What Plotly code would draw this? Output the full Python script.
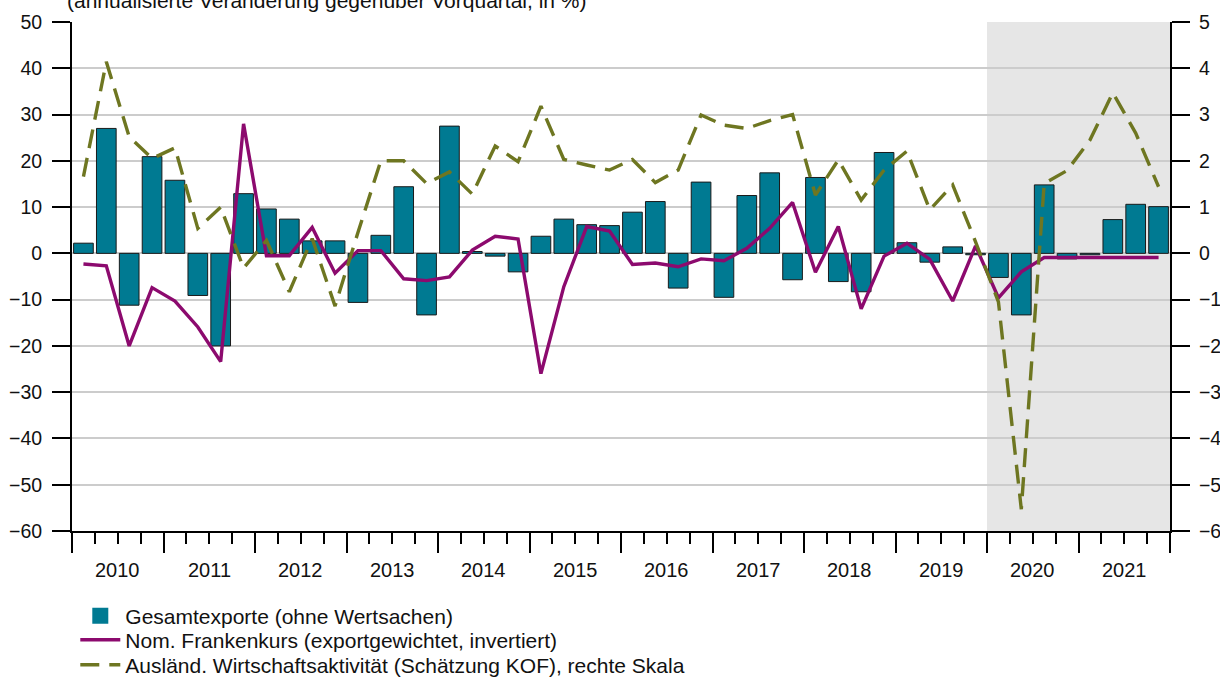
import plotly.graph_objects as go

years = list(range(2010, 2022))
quarters = [f"{y}Q{q}" for y in years for q in range(1, 5)]

exports = [2.2, 27.0, -11.2, 20.9,
           15.8, -9.1, -20.0, 12.9,
           9.6, 7.4, 2.7, 2.7,
           -10.6, 3.9, 14.4, -13.3,
           27.5, 0.4, -0.6, -4.0,
           3.7, 7.4, 6.2, 6.0,
           8.9, 11.2, -7.5, 15.4,
           -9.5, 12.5, 17.4, -5.7,
           16.4, -6.1, -8.3, 21.8,
           2.3, -1.9, 1.4, -0.3,
           -5.2, -13.3, 14.8, -1.2,
           -0.3, 7.3, 10.6, 10.1]

chf = [-2.3, -2.7, -20.0, -7.4,
       -10.3, -15.9, -23.4, 28.0,
       -0.5, -0.5, 5.6, -4.3,
       0.6, 0.6, -5.5, -5.9,
       -5.1, 0.7, 3.7, 3.1,
       -26.0, -7.2, 5.8, 4.8,
       -2.4, -2.1, -2.9, -1.2,
       -1.6, 1.1, 5.4, 11.0,
       -4.1, 5.8, -12.0, -0.6,
       2.2, -1.3, -10.3, 1.6,
       -9.6, -4.0, -0.9, -0.9,
       -0.9, -0.9, -0.9, -0.9]

kof = [1.66, 4.14, 2.52, 2.05,
       2.28, 0.54, 1.0, -0.32,
       0.28, -0.83, 0.32, -1.14,
       0.45, 2.0, 2.0, 1.51,
       1.76, 1.28, 2.32, 1.98,
       3.18, 2.03, 1.91, 1.8,
       2.03, 1.53, 1.8, 2.99,
       2.77, 2.7, 2.87, 3.0,
       1.26, 2.02, 1.15, 1.8,
       2.21, 0.94, 1.48, 0.25,
       -1.05, -5.53, 1.51, 1.79,
       2.45, 3.47, 2.6, 1.44]

shade_start = "2020Q1"

names = ["Gesamtexporte (ohne Wertsachen)",
         "Nom. Frankenkurs (exportgewichtet, invertiert)",
         "Ausländ. Wirtschaftsaktivität (Schätzung KOF), rechte Skala"]

TEAL = "#007a92"
PURPLE = "#8c0a6e"
OLIVE = "#6e7621"
FONT = "Liberation Sans, Arial, sans-serif"
TXT = "#111111"

idx = list(range(len(quarters)))
n = len(quarters)

fig = go.Figure()
fig.add_trace(go.Bar(
    x=idx, y=exports, name=names[0], showlegend=False,
    marker=dict(color=TEAL, line=dict(color="#1a1a1a", width=1)),
    width=0.86,
))
# legend proxy for the bars (larger square symbol)
fig.add_trace(go.Scatter(
    x=[None], y=[None], name=names[0], mode="markers",
    marker=dict(symbol="square", size=18, color=TEAL), legend="legend",
))
fig.add_trace(go.Scatter(
    x=idx, y=chf, name=names[1], legend="legend2",
    mode="lines", line=dict(color=PURPLE, width=3.4),
))
fig.add_trace(go.Scatter(
    x=idx, y=kof, name=names[2], legend="legend3",
    mode="lines", line=dict(color=OLIVE, width=3.4, dash="19px,10px"),
    yaxis="y2",
))

s = quarters.index(shade_start)
fig.add_shape(type="rect", xref="x", yref="paper",
              x0=s - 0.5, x1=n - 0.5, y0=0, y1=1,
              fillcolor="#e6e6e6", line=dict(width=0), layer="below")

year_bounds = [4 * k - 0.5 for k in range(len(years) + 1)]
quarter_bounds = [i - 0.5 for i in range(n + 1)]

for k, yr in enumerate(years):
    fig.add_annotation(x=4 * k + 1.5, xref="x", y=0, yref="paper",
                       yanchor="top", yshift=-26, showarrow=False,
                       text=str(yr), font=dict(size=20, color=TXT, family=FONT))

fig.add_annotation(x=-0.0064, xref="paper", xanchor="left", y=1, yref="paper",
                   yanchor="bottom", yshift=8, showarrow=False,
                   text="(annualisierte Veränderung gegenüber Vorquartal, in %)",
                   font=dict(size=21, color=TXT, family=FONT))

leg_common = dict(x=0.003, xref="paper", yref="container", xanchor="left",
                  yanchor="top", orientation="v",
                  font=dict(size=21, family=FONT, color=TXT),
                  itemwidth=40, bgcolor="rgba(0,0,0,0)")

fig.update_layout(
    width=1220, height=677,
    margin=dict(l=72, r=50, t=22, b=146, autoexpand=False),
    paper_bgcolor="white", plot_bgcolor="white",
    font=dict(family=FONT, size=20, color=TXT),
    showlegend=True,
    legend=dict(y=0.1202, **leg_common),
    legend2=dict(y=0.0848, **leg_common),
    legend3=dict(y=0.0479, **leg_common),
    xaxis=dict(range=[-0.5, n - 0.5], tickmode="array", tickvals=year_bounds,
               showticklabels=False, ticks="outside", ticklen=20, tickwidth=2,
               tickcolor="#000", showline=True, linecolor="#000", linewidth=2,
               showgrid=False, zeroline=False, automargin=False,
               minor=dict(tickmode="array", tickvals=quarter_bounds, ticks="outside",
                          ticklen=11, tickwidth=1.5, tickcolor="#000", showgrid=False)),
    yaxis=dict(range=[-60, 50], tickmode="linear", tick0=-60, dtick=10,
               ticks="outside", ticklen=18, tickwidth=2, tickcolor="#000",
               showline=True, linecolor="#000", linewidth=2,
               showgrid=True, gridcolor="#cccccc", gridwidth=2, zeroline=False,
               ticklabelstandoff=6, automargin=False,
               tickfont=dict(size=19.5, family=FONT, color=TXT)),
    yaxis2=dict(range=[-6, 5], tickmode="linear", tick0=-6, dtick=1,
                overlaying="y", side="right", anchor="x",
                ticks="outside", ticklen=18, tickwidth=2, tickcolor="#000",
                showline=True, linecolor="#000", linewidth=2,
                showgrid=False, zeroline=False, automargin=False,
                ticklabelstandoff=5,
                tickfont=dict(size=19.5, family=FONT, color=TXT)),
)

fig.write_html(
    "out.html",
    config={"displayModeBar": False},
    post_script="document.body.style.margin='0';document.body.style.overflow='hidden';",
)
